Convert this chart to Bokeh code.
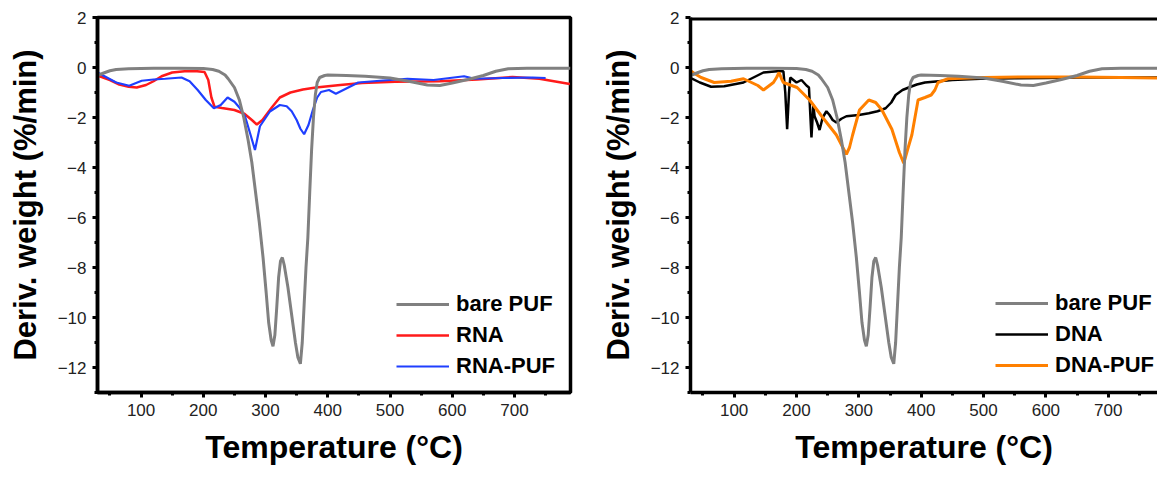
from bokeh.plotting import figure
from bokeh.layouts import row
from bokeh.models import Legend, LegendItem, FixedTicker, Range1d, Span
from bokeh.embed import file_html
from bokeh.resources import INLINE

# ---------------- data ----------------
puf_x = [30, 40, 50, 60, 80, 120, 160, 200, 215, 225, 235, 240, 250, 258, 265, 272, 278, 284, 290,
         296, 301, 305, 309, 312, 315, 318, 321, 324, 327, 330, 336, 342, 348, 352, 356, 359, 362,
         365, 368, 371, 374, 377, 380, 383, 387, 395, 400, 430, 460, 500, 530, 560, 580, 600, 625,
         650, 670, 690, 720, 760, 790]
puf_y = [-0.32, -0.22, -0.13, -0.08, -0.05, -0.03, -0.03, -0.04, -0.08, -0.15, -0.3, -0.45, -0.8,
         -1.3, -2.0, -2.9, -3.8, -5.0, -6.2, -7.6, -9.0, -10.2, -10.9, -11.15, -10.7, -9.6, -8.4,
         -7.75, -7.6, -7.9, -8.8, -9.9, -11.0, -11.6, -11.85, -11.0, -9.5, -8.0, -6.8, -5.0, -3.3,
         -2.0, -1.1, -0.6, -0.4, -0.32, -0.3, -0.32, -0.35, -0.42, -0.55, -0.7, -0.72, -0.62,
         -0.48, -0.32, -0.15, -0.05, -0.03, -0.03, -0.03]

rna_x = [30, 50, 65, 80, 93, 108, 120, 133, 150, 170, 190, 202, 208, 213, 218, 230, 250, 266,
         278, 286, 295, 310, 323, 340, 360, 381, 420, 455, 508, 580, 640, 697, 740, 789]
rna_y = [-0.32, -0.5, -0.68, -0.77, -0.8, -0.7, -0.55, -0.35, -0.2, -0.15, -0.15, -0.18, -0.5,
         -1.2, -1.57, -1.62, -1.7, -1.85, -2.1, -2.28, -2.1, -1.6, -1.2, -1.0, -0.88, -0.8, -0.7,
         -0.62, -0.57, -0.55, -0.48, -0.38, -0.45, -0.66]

rnapuf_x = [30, 45, 60, 81, 101, 120, 139, 165, 178, 191, 204, 217, 228, 239, 250, 258, 267, 276,
            283, 291, 307, 323, 334, 342, 350, 356, 362, 369, 376, 383, 389, 402, 413, 429, 449,
            489, 528, 570, 619, 636, 680, 729, 750]
rnapuf_y = [-0.2, -0.4, -0.6, -0.73, -0.53, -0.48, -0.45, -0.4, -0.55, -0.9, -1.3, -1.63, -1.5,
            -1.2, -1.37, -1.6, -1.95, -2.7, -3.3, -2.35, -1.76, -1.5, -1.55, -1.75, -2.1, -2.45,
            -2.67, -2.3, -1.7, -1.2, -0.98, -0.9, -1.05, -0.85, -0.6, -0.52, -0.45, -0.5, -0.35,
            -0.45, -0.42, -0.4, -0.42]

dna_x = [29, 45, 63, 84, 115, 147, 169, 179, 182, 185, 188, 190, 200, 208, 216, 220, 224, 227,
         229, 233, 237, 242, 248, 253, 258, 264, 272, 280, 300, 316, 330, 343, 352, 359, 370, 380,
         393, 406, 450, 495, 550, 600, 650, 700, 790]
dna_y = [-0.4, -0.6, -0.77, -0.75, -0.6, -0.2, -0.15, -0.15, -1.0, -2.47, -1.0, -0.4, -0.6, -0.5,
         -0.72, -0.8, -2.8, -1.5, -1.95, -2.2, -2.5, -2.0, -1.75, -1.9, -2.1, -2.2, -2.05, -1.95,
         -1.9, -1.83, -1.75, -1.63, -1.4, -1.1, -0.9, -0.8, -0.68, -0.6, -0.5, -0.45, -0.43, -0.42,
         -0.4, -0.4, -0.4]

dnapuf_x = [27, 37, 47, 68, 95, 115, 138, 147, 163, 168, 172, 176, 179, 190, 201, 221, 242, 264,
            280, 285, 290, 301, 316, 327, 337, 353, 365, 372, 378, 385, 395, 406, 416, 422, 427,
            443, 500, 560, 653, 720, 790]
dnapuf_y = [-0.08, -0.25, -0.4, -0.6, -0.55, -0.45, -0.72, -0.9, -0.6, -0.4, -0.2, -0.45, -0.6,
            -0.7, -0.8, -1.3, -2.0, -2.7, -3.47, -3.2, -2.7, -1.7, -1.3, -1.4, -1.7, -2.47, -3.4,
            -3.83, -3.3, -2.7, -1.3, -1.2, -1.1, -0.9, -0.6, -0.45, -0.4, -0.38, -0.38, -0.4, -0.43]

x_ticks = [100, 200, 300, 400, 500, 600, 700]
x_minor = [50, 150, 250, 350, 450, 550, 650, 750]
y_ticks = [-12, -10, -8, -6, -4, -2, 0, 2]
y_minor = [-13, -11, -9, -7, -5, -3, -1, 1]
y_top = 2

FONT = "Liberation Sans"
GRAY = "#808080"


def style(p):
    p.xgrid.visible = False
    p.ygrid.visible = False
    p.background_fill_color = "white"
    p.border_fill_color = "white"
    for ax in (p.xaxis[0], p.yaxis[0]):
        ax.axis_line_width = 3.5
        ax.axis_line_color = "black"
        ax.major_tick_line_width = 3
        ax.minor_tick_line_width = 3
        ax.major_tick_out = 5
        ax.major_tick_in = 0
        ax.minor_tick_out = 3
        ax.minor_tick_in = 0
        ax.major_label_text_font = FONT
        ax.major_label_text_font_size = "17px"
        ax.major_label_text_color = "#222222"
        ax.axis_label_text_font = FONT
        ax.axis_label_text_font_style = "bold"
        ax.axis_label_text_color = "black"
    p.xaxis[0].ticker = FixedTicker(ticks=x_ticks, minor_ticks=x_minor)
    p.yaxis[0].ticker = FixedTicker(ticks=y_ticks, minor_ticks=y_minor)
    p.xaxis[0].axis_label = "Temperature (°C)"
    p.yaxis[0].axis_label = "Deriv. weight (%/min)"
    p.xaxis[0].axis_label_text_font_size = "32px"
    p.yaxis[0].axis_label_text_font_size = "31px"
    p.xaxis[0].major_label_standoff = 6
    p.yaxis[0].major_label_standoff = 6
    p.xaxis[0].axis_label_standoff = 10
    p.yaxis[0].axis_label_standoff = 12


def make_legend(p, items, loc):
    leg = Legend(items=items, location=loc, padding=0, margin=0, spacing=5,
                 glyph_width=53, glyph_height=24, label_height=24, label_standoff=7,
                 label_text_font=FONT, label_text_font_style="bold",
                 label_text_font_size="22px", label_text_color="black",
                 border_line_color=None, background_fill_alpha=0)
    p.add_layout(leg)


# ---------------- left panel ----------------
p1 = figure(width=592, height=470, output_backend="svg", toolbar_location=None,
            x_range=Range1d(30, 790), y_range=Range1d(-13, 2),
            min_border_left=97, min_border_right=22, min_border_top=17, min_border_bottom=78)
style(p1)
p1.outline_line_color = "black"
p1.outline_line_width = 3.5
r_rna = p1.line(rna_x, rna_y, line_color="#ff1a1a", line_width=2.5)
r_rnapuf = p1.line(rnapuf_x, rnapuf_y, line_color="#1f3fff", line_width=2.2)
r_puf1 = p1.line(puf_x, puf_y, line_color=GRAY, line_width=3)
make_legend(p1, [LegendItem(label="bare PUF", renderers=[r_puf1]),
                 LegendItem(label="RNA", renderers=[r_rna]),
                 LegendItem(label="RNA-PUF", renderers=[r_rnapuf])], (299, 13))

# ---------------- right panel (cut at the right edge, as in the original) ----------------
p2 = figure(width=565, height=470, output_backend="svg", toolbar_location=None,
            x_range=Range1d(30, 779), y_range=Range1d(-13, 2),
            min_border_left=98, min_border_right=0, min_border_top=17, min_border_bottom=78)
style(p2)
p2.outline_line_color = None
p2.add_layout(Span(location=y_top, dimension="width", line_color="black", line_width=6))
r_dna = p2.line(dna_x, dna_y, line_color="black", line_width=2.5)
r_dnapuf = p2.line(dnapuf_x, dnapuf_y, line_color="#ff8000", line_width=3)
r_puf2 = p2.line(puf_x, puf_y, line_color=GRAY, line_width=3)
make_legend(p2, [LegendItem(label="bare PUF", renderers=[r_puf2]),
                 LegendItem(label="DNA", renderers=[r_dna]),
                 LegendItem(label="DNA-PUF", renderers=[r_dnapuf])], (305, 14))

layout = row(p1, p2, spacing=0)
open("out.html", "w").write(file_html(layout, INLINE))
